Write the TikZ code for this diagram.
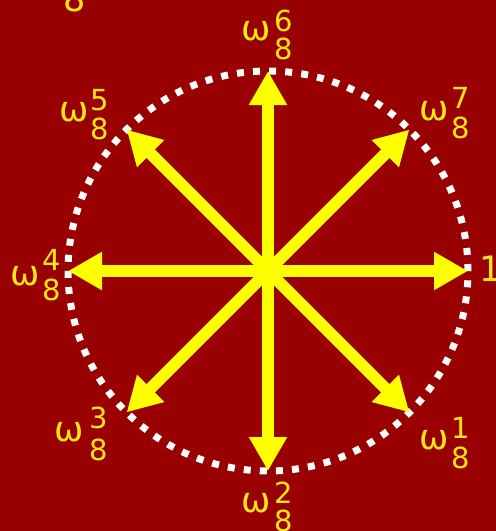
\documentclass[tikz,border=0pt]{standalone}
\usepackage{fontspec}
\setmainfont{DejaVu Sans}
\usetikzlibrary{arrows.meta}
\definecolor{bg}{RGB}{153,0,0}
\definecolor{yel}{RGB}{255,255,0}
\definecolor{tyel}{RGB}{255,230,20}
\tikzset{
  vec/.style={draw=yel, line width=12pt, -{Triangle[length=34pt,width=36pt]}},
  lbl/.style={text=tyel, inner sep=0pt, font=\fontsize{29}{34}\selectfont},
  om/.style={text=tyel, inner sep=0pt, font=\fontsize{35}{40}\selectfont},
  ring/.style={draw=white, line width=7pt, dash pattern=on 7pt off 9.11pt}
}
\begin{document}
\begin{tikzpicture}[x=1pt,y=-1pt]
\clip (0,0) rectangle (496,531);
\fill[bg] (0,0) rectangle (496,531);
\coordinate (c) at (268,271);
\draw[ring] (c) circle[radius=200pt];
\coordinate (p0) at (468,271);
\coordinate (p1) at (409.4,412.4);
\coordinate (p2) at (268,471);
\coordinate (p3) at (126.6,412.4);
\coordinate (p4) at (68,271);
\coordinate (p5) at (126.6,129.6);
\coordinate (p6) at (268,71);
\coordinate (p7) at (409.4,129.6);
\foreach \i in {0,...,7}{\draw[vec] (c) -- (p\i);}
% labels
\node[om] (w6) at (256,31) {ω};
\node[lbl] (s6) at (284,21) {6};
\node[lbl] (b6) at (284,49) {8};
\node[om] (w7) at (434,111) {ω};
\node[lbl] (s7) at (461,98) {7};
\node[lbl] (b7) at (461,128) {8};
\node[om] (w5) at (74,112) {ω};
\node[lbl] (s5) at (100,100) {5};
\node[lbl] (b5) at (100,129) {8};
\node[om] (w4) at (25,276) {ω};
\node[lbl] (s4) at (52,260) {4};
\node[lbl] (b4) at (52,290) {8};
\node[om] (w3) at (69,432) {ω};
\node[lbl] (s3) at (99,418) {3};
\node[lbl] (b3) at (99,450) {8};
\node[om] (w2) at (256,503) {ω};
\node[lbl] (s2) at (284,493) {2};
\node[lbl] (b2) at (284,521) {8};
\node[om] (w1) at (434,440) {ω};
\node[lbl] (s1) at (461,428) {1};
\node[lbl] (b1) at (461,458) {8};
\node[om] (one) at (491,269) {1};
\node[om] (top8) at (75,-1) {8};
\end{tikzpicture}
\end{document}
